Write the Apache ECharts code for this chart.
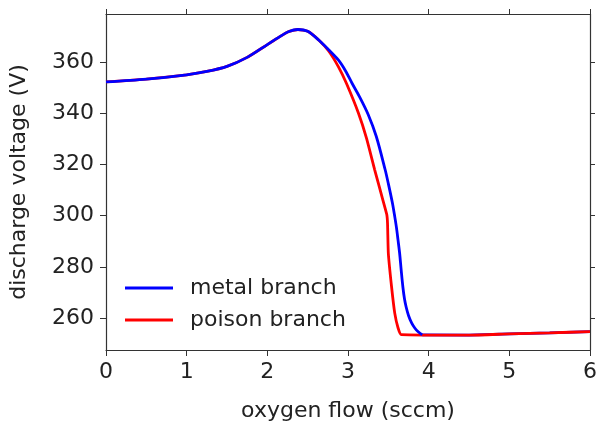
<!DOCTYPE html>
<html>
<head>
<meta charset="utf-8">
<script src="https://cdn.jsdelivr.net/npm/echarts@6/dist/echarts.min.js"></script>
<style>
html,body{margin:0;padding:0;background:#fff;}
#chart{width:600px;height:427px;}
</style>
</head>
<body>
<div id="chart"></div>
<script>
// Data
var metalX = [0, 0.5, 1.0, 1.25, 1.5, 1.75, 2.0, 2.15, 2.26, 2.38, 2.5, 2.64, 2.76, 2.88, 2.97, 3.05, 3.15, 3.25, 3.35, 3.46, 3.50, 3.55, 3.58, 3.60, 3.62, 3.64, 3.66, 3.68, 3.70, 3.72, 3.75, 3.79, 3.83, 3.87, 3.92];
var metalY = [352.2, 353.3, 355.0, 356.3, 358.3, 361.8, 366.8, 369.8, 371.8, 372.7, 372.0, 368.5, 364.8, 360.8, 356.5, 351.7, 346.0, 339.5, 331.0, 318.0, 312.5, 305.0, 299.5, 295.5, 290.5, 285.3, 278.5, 272.2, 267.5, 264.4, 261.0, 258.0, 256.0, 254.6, 253.4];
var metalTailX = [3.92, 4.5, 5.0, 5.5, 6.0];
var metalTailY = [253.4, 253.3, 253.8, 254.2, 254.7];
var poisonX = [0, 0.5, 1.0, 1.25, 1.5, 1.75, 2.0, 2.15, 2.26, 2.38, 2.5, 2.64, 2.76, 2.88, 2.98, 3.13, 3.23, 3.33, 3.42, 3.48, 3.49, 3.50, 3.54, 3.58, 3.62, 3.66, 4.5, 5.0, 5.5, 6.0];
var poisonY = [352.2, 353.3, 355.0, 356.3, 358.3, 361.8, 366.8, 369.8, 371.8, 372.7, 372.0, 368.5, 364.3, 358.2, 351.7, 340.0, 330.2, 318.0, 307.5, 300.5, 297.0, 285.3, 272.2, 261.8, 256.2, 253.5, 253.3, 253.8, 254.2, 254.7];
var seriesNames = ['metal branch', 'poison branch'];
var xTicks = [0, 1, 2, 3, 4, 5, 6];
var yTicks = [260, 280, 300, 320, 340, 360];
var xTitle = 'oxygen flow (sccm)';
var yTitle = 'discharge voltage (V)';

function pairs(xs, ys) { return xs.map(function (x, i) { return [x, ys[i]]; }); }

var font = 'DejaVu Sans';
var axisColor = '#333';
var fs = 22;
var chart = echarts.init(document.getElementById('chart'), null, {renderer: 'canvas'});
var yMin = 247.5, yMax = 378.75;

chart.setOption({
  animation: false,
  backgroundColor: '#fff',
  grid: {left: 106, right: 7, top: 14, bottom: 77, containLabel: false},
  legend: {
    orient: 'vertical',
    left: 120,
    top: 272,
    itemWidth: 48,
    itemHeight: 3,
    itemGap: 10,
    icon: 'rect',
    data: seriesNames,
    textStyle: {fontFamily: font, fontSize: fs, color: '#222', padding: [0, 0, 0, 12]}
  },
  xAxis: [{
    type: 'value', min: 0, max: 6, interval: 1,
    name: xTitle, nameLocation: 'middle', nameGap: 50,
    nameTextStyle: {fontFamily: font, fontSize: fs, color: '#222'},
    axisLine: {show: true, onZero: false, lineStyle: {color: axisColor, width: 1.2}},
    axisTick: {show: true, inside: false, length: 6, lineStyle: {color: axisColor}, customValues: xTicks},
    axisLabel: {fontFamily: font, fontSize: fs, color: '#222', margin: 11, customValues: xTicks},
    splitLine: {show: false}
  }, {
    type: 'value', position: 'top', min: 0, max: 6, interval: 1,
    axisLine: {show: true, onZero: false, lineStyle: {color: axisColor, width: 1.2}},
    axisTick: {show: true, inside: false, length: 5, lineStyle: {color: axisColor}},
    axisLabel: {show: false},
    splitLine: {show: false}
  }],
  yAxis: [{
    type: 'value', min: yMin, max: yMax,
    name: yTitle, nameLocation: 'middle', nameGap: 76, nameRotate: 90,
    nameTextStyle: {fontFamily: font, fontSize: fs, color: '#222'},
    axisLine: {show: true, onZero: false, lineStyle: {color: axisColor, width: 1.2}},
    axisTick: {show: true, inside: false, length: 6, lineStyle: {color: axisColor}, customValues: yTicks},
    axisLabel: {fontFamily: font, fontSize: fs, color: '#222', margin: 12, customValues: yTicks},
    splitLine: {show: false}
  }, {
    type: 'value', position: 'right', min: yMin, max: yMax,
    axisLine: {show: true, onZero: false, lineStyle: {color: axisColor, width: 1.2}},
    axisTick: {show: true, inside: false, length: 5, lineStyle: {color: axisColor}, customValues: yTicks},
    axisLabel: {show: false, customValues: yTicks},
    splitLine: {show: false}
  }],
  series: [{
    name: seriesNames[0], type: 'line', xAxisIndex: 0, yAxisIndex: 0, z: 1,
    data: pairs(metalTailX, metalTailY), showSymbol: false, symbol: 'none',
    lineStyle: {color: '#0000ff', width: 2.8}, itemStyle: {color: '#0000ff'}
  }, {
    name: seriesNames[1], type: 'line', xAxisIndex: 0, yAxisIndex: 0, z: 2,
    data: pairs(poisonX, poisonY), showSymbol: false, symbol: 'none', smooth: 0.15,
    lineStyle: {color: '#ff0000', width: 2.8}, itemStyle: {color: '#ff0000'}
  }, {
    name: seriesNames[0], type: 'line', xAxisIndex: 0, yAxisIndex: 0, z: 3,
    data: pairs(metalX, metalY), showSymbol: false, symbol: 'none', smooth: 0.3,
    lineStyle: {color: '#0000ff', width: 2.8}, itemStyle: {color: '#0000ff'}
  }]
});
</script>
</body>
</html>
